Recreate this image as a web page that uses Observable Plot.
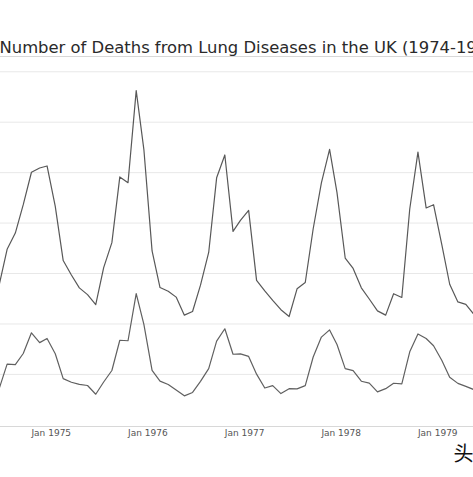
<!DOCTYPE html>
<html>
<head>
<meta charset="utf-8">
<script src="https://cdn.jsdelivr.net/npm/d3@7"></script>
<script src="https://cdn.jsdelivr.net/npm/@observablehq/plot@0.6"></script>
<style>
  html, body { margin: 0; padding: 0; background: #fff; overflow: hidden; }
</style>
</head>
<body>
<div id="chart"></div>
<script>
// Monthly deaths from lung diseases in the UK, 1974-1979
const startYear = 1974;
const maleDeaths = [
  2134, 1863, 1877, 1877, 1492, 1249, 1280, 1131, 1209, 1492, 1621, 1846,
  2103, 2137, 2153, 1833, 1403, 1288, 1186, 1133, 1053, 1347, 1545, 2066,
  2020, 2750, 2283, 1479, 1189, 1160, 1113, 970, 999, 1208, 1467, 2059,
  2240, 1634, 1722, 1801, 1246, 1162, 1087, 1013, 959, 1179, 1229, 1655,
  2019, 2284, 1942, 1423, 1340, 1187, 1098, 1004, 970, 1140, 1110, 1812,
  2263, 1820, 1846, 1531, 1215, 1075, 1056, 975, 940, 1081, 1294, 1341
];
const femaleDeaths = [
  901, 689, 827, 677, 522, 406, 441, 393, 387, 582, 578, 666,
  830, 752, 785, 664, 467, 438, 421, 412, 343, 440, 531, 771,
  767, 1141, 896, 532, 447, 420, 376, 330, 357, 445, 546, 764,
  862, 660, 663, 643, 502, 392, 411, 348, 387, 385, 411, 638,
  796, 853, 737, 546, 530, 446, 431, 362, 387, 430, 425, 679,
  821, 785, 727, 612, 478, 429, 405, 379, 393, 411, 487, 574
];
const tickYears = [1975, 1976, 1977, 1978, 1979];
const tickLabels = ["Jan 1975", "Jan 1976", "Jan 1977", "Jan 1978", "Jan 1979"];
const gridValues = [500, 900, 1300, 1700, 2100, 2500, 2900];
const title = "Number of Deaths from Lung Diseases in the UK (1974-1979)";
const watermark = "头";

const monthDate = (i) => new Date(Date.UTC(startYear, i, 1));
const male = maleDeaths.map((v, i) => ({date: monthDate(i), value: v}));
const female = femaleDeaths.map((v, i) => ({date: monthDate(i), value: v}));
const tickDates = tickYears.map((y) => new Date(Date.UTC(y, 0, 1)));

const yDomain = [87, 3021];

const chart = Plot.plot({
  width: 473,
  height: 477,
  marginTop: 56,
  marginBottom: 51,
  marginLeft: 0,
  marginRight: 0,
  style: {fontFamily: "DejaVu Sans", fontSize: "9px", color: "#555", background: "#fff"},
  x: {type: "utc", domain: [new Date(Date.UTC(1974, 8, 6)), new Date(Date.UTC(1979, 6, 30))]},
  y: {domain: yDomain, axis: null},
  marks: [
    Plot.ruleY(gridValues, {stroke: "#e8e8e8", strokeWidth: 1}),
    Plot.ruleY([yDomain[1]], {stroke: "#d8d8d8", strokeWidth: 1}),
    Plot.ruleY([yDomain[0]], {stroke: "#d8d8d8", strokeWidth: 1}),
    Plot.line(male, {x: "date", y: "value", stroke: "#585858", strokeWidth: 1.2, clip: true}),
    Plot.line(female, {x: "date", y: "value", stroke: "#606060", strokeWidth: 1.2, clip: true}),
    Plot.axisX({
      ticks: tickDates,
      tickFormat: (d) => tickLabels[tickDates.findIndex((t) => +t === +d)],
      tickSize: 0,
      tickPadding: 3,
      textAnchor: "start",
      label: null,
      fill: "#555"
    }),
    Plot.text([title], {
      frameAnchor: "top-left",
      text: (d) => d,
      textAnchor: "start",
      lineAnchor: "bottom",
      dx: -1,
      dy: -4,
      fontSize: 16.4,
      fill: "#2a2a2a"
    }),
    Plot.text([watermark], {
      frameAnchor: "bottom-right",
      text: (d) => d,
      textAnchor: "start",
      lineAnchor: "bottom",
      dx: -20,
      dy: 34,
      fontSize: 20,
      fontFamily: "Noto Sans CJK SC",
      fill: "#111"
    })
  ]
});
document.getElementById("chart").appendChild(chart);
</script>
</body>
</html>
